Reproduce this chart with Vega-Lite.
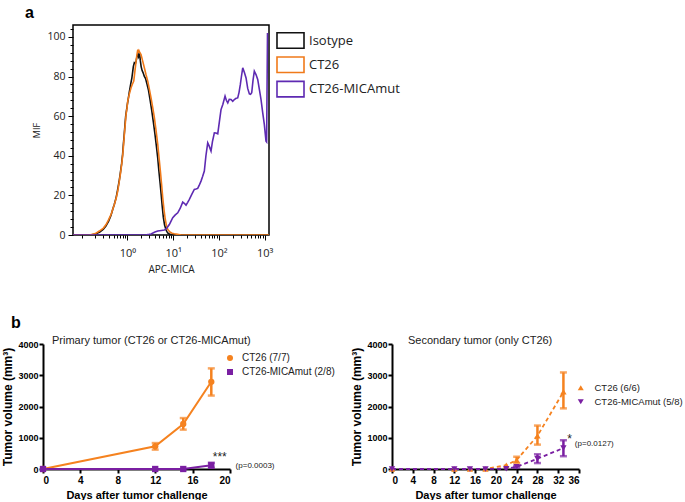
{
  "$schema": "https://vega.github.io/schema/vega-lite/v6.json",
  "background": "white",
  "padding": {"left": 1, "top": 5, "right": 0, "bottom": 0},
  "config": {"view": {"stroke": null}, "font": "Liberation Sans", "axis": {"labelOverlap": false, "labelSeparation": 0}},
  "spacing": 40,
  "resolve": {"scale": {"color": "independent", "shape": "independent", "stroke": "independent"}},
  "vconcat": [
    {
      "title": {"text": "a", "anchor": "start", "frame": "group", "dx": -18, "fontSize": 16, "fontWeight": "bold", "font": "Liberation Sans", "offset": 2},
      "spacing": -12,
      "resolve": {"scale": {"stroke": "independent"}},
      "hconcat": [
        {"width": 1, "height": 210, "data": {"values": []}, "mark": "point"},
        {
          "width": 196,
          "height": 210,
          "view": {"stroke": "black", "strokeWidth": 1.5},
          "data": {"values": [
            {"s":"Isotype","x":0.065,"y":0},{"s":"Isotype","x":0.16,"y":0},{"s":"Isotype","x":0.2,"y":0.5},{"s":"Isotype","x":0.25,"y":1.5},{"s":"Isotype","x":0.3,"y":3},{"s":"Isotype","x":0.34,"y":4.5},{"s":"Isotype","x":0.39,"y":7},{"s":"Isotype","x":0.44,"y":10},{"s":"Isotype","x":0.48,"y":13},{"s":"Isotype","x":0.52,"y":15.5},{"s":"Isotype","x":0.57,"y":19},{"s":"Isotype","x":0.61,"y":22.5},{"s":"Isotype","x":0.66,"y":27},{"s":"Isotype","x":0.7,"y":31},{"s":"Isotype","x":0.75,"y":36},{"s":"Isotype","x":0.79,"y":41},{"s":"Isotype","x":0.82,"y":46},{"s":"Isotype","x":0.85,"y":50},{"s":"Isotype","x":0.89,"y":56},{"s":"Isotype","x":0.92,"y":60},{"s":"Isotype","x":0.96,"y":63},{"s":"Isotype","x":1.0,"y":66},{"s":"Isotype","x":1.05,"y":69},{"s":"Isotype","x":1.1,"y":72},{"s":"Isotype","x":1.18,"y":76},{"s":"Isotype","x":1.25,"y":79},{"s":"Isotype","x":1.3,"y":82},{"s":"Isotype","x":1.35,"y":85},{"s":"Isotype","x":1.42,"y":87},{"s":"Isotype","x":1.5,"y":86.5},{"s":"Isotype","x":1.56,"y":88},{"s":"Isotype","x":1.62,"y":90},{"s":"Isotype","x":1.68,"y":91},{"s":"Isotype","x":1.75,"y":90},{"s":"Isotype","x":1.8,"y":91.5},{"s":"Isotype","x":1.86,"y":91},{"s":"Isotype","x":1.92,"y":88},{"s":"Isotype","x":2.0,"y":85},{"s":"Isotype","x":2.1,"y":83},{"s":"Isotype","x":2.2,"y":82},{"s":"Isotype","x":2.35,"y":80},{"s":"Isotype","x":2.5,"y":79},{"s":"Isotype","x":2.7,"y":76},{"s":"Isotype","x":2.9,"y":73},{"s":"Isotype","x":3.1,"y":69},{"s":"Isotype","x":3.4,"y":63},{"s":"Isotype","x":3.7,"y":57},{"s":"Isotype","x":4.0,"y":51},{"s":"Isotype","x":4.3,"y":45},{"s":"Isotype","x":4.6,"y":39},{"s":"Isotype","x":4.9,"y":32},{"s":"Isotype","x":5.2,"y":26},{"s":"Isotype","x":5.5,"y":20},{"s":"Isotype","x":5.8,"y":14},{"s":"Isotype","x":6.1,"y":9},{"s":"Isotype","x":6.5,"y":5},{"s":"Isotype","x":7.0,"y":2.5},{"s":"Isotype","x":7.6,"y":1},{"s":"Isotype","x":8.5,"y":0.3},{"s":"Isotype","x":10,"y":0},{"s":"Isotype","x":1240,"y":0},
            {"s":"CT26","x":0.065,"y":0},{"s":"CT26","x":0.15,"y":0},{"s":"CT26","x":0.2,"y":0.7},{"s":"CT26","x":0.245,"y":2},{"s":"CT26","x":0.3,"y":3.5},{"s":"CT26","x":0.343,"y":5.3},{"s":"CT26","x":0.39,"y":7.8},{"s":"CT26","x":0.441,"y":10.4},{"s":"CT26","x":0.48,"y":13},{"s":"CT26","x":0.52,"y":15.4},{"s":"CT26","x":0.57,"y":18.5},{"s":"CT26","x":0.617,"y":22.2},{"s":"CT26","x":0.66,"y":26.5},{"s":"CT26","x":0.703,"y":30.6},{"s":"CT26","x":0.75,"y":35.5},{"s":"CT26","x":0.794,"y":40.6},{"s":"CT26","x":0.83,"y":46},{"s":"CT26","x":0.86,"y":50.7},{"s":"CT26","x":0.9,"y":56},{"s":"CT26","x":0.937,"y":60.8},{"s":"CT26","x":0.98,"y":64},{"s":"CT26","x":1.02,"y":67.6},{"s":"CT26","x":1.1,"y":71},{"s":"CT26","x":1.205,"y":74.3},{"s":"CT26","x":1.28,"y":76},{"s":"CT26","x":1.38,"y":77.7},{"s":"CT26","x":1.45,"y":82},{"s":"CT26","x":1.55,"y":87.7},{"s":"CT26","x":1.62,"y":91},{"s":"CT26","x":1.69,"y":93.6},{"s":"CT26","x":1.75,"y":92},{"s":"CT26","x":1.8,"y":93},{"s":"CT26","x":1.88,"y":92},{"s":"CT26","x":1.99,"y":91.1},{"s":"CT26","x":2.15,"y":88},{"s":"CT26","x":2.35,"y":84.4},{"s":"CT26","x":2.55,"y":81},{"s":"CT26","x":2.79,"y":77.7},{"s":"CT26","x":3.0,"y":74},{"s":"CT26","x":3.29,"y":69.2},{"s":"CT26","x":3.6,"y":64},{"s":"CT26","x":3.89,"y":59.2},{"s":"CT26","x":4.25,"y":52.5},{"s":"CT26","x":4.61,"y":45.7},{"s":"CT26","x":4.95,"y":38.5},{"s":"CT26","x":5.26,"y":32.3},{"s":"CT26","x":5.6,"y":25.5},{"s":"CT26","x":5.93,"y":18.8},{"s":"CT26","x":6.3,"y":13},{"s":"CT26","x":6.66,"y":8.7},{"s":"CT26","x":7.1,"y":5},{"s":"CT26","x":7.62,"y":2.8},{"s":"CT26","x":8.5,"y":1.5},{"s":"CT26","x":9.5,"y":0.9},{"s":"CT26","x":10.6,"y":0.6},{"s":"CT26","x":12.5,"y":0.3},{"s":"CT26","x":14.9,"y":0},{"s":"CT26","x":1240,"y":0},
            {"s":"CT26-MICAmut","x":0.065,"y":0},{"s":"CT26-MICAmut","x":2.5,"y":0},{"s":"CT26-MICAmut","x":3.0,"y":0.3},{"s":"CT26-MICAmut","x":3.29,"y":0.5},{"s":"CT26-MICAmut","x":4.0,"y":1.5},{"s":"CT26-MICAmut","x":4.61,"y":2},{"s":"CT26-MICAmut","x":5.5,"y":2.3},{"s":"CT26-MICAmut","x":6.43,"y":2.5},{"s":"CT26-MICAmut","x":7.3,"y":3.5},{"s":"CT26-MICAmut","x":8.26,"y":5.3},{"s":"CT26-MICAmut","x":9.0,"y":7},{"s":"CT26-MICAmut","x":9.8,"y":8.7},{"s":"CT26-MICAmut","x":11,"y":10},{"s":"CT26-MICAmut","x":12.6,"y":11.2},{"s":"CT26-MICAmut","x":14.3,"y":13.5},{"s":"CT26-MICAmut","x":16.2,"y":16.6},{"s":"CT26-MICAmut","x":17.5,"y":16},{"s":"CT26-MICAmut","x":19.1,"y":15.1},{"s":"CT26-MICAmut","x":20.8,"y":16.5},{"s":"CT26-MICAmut","x":22.6,"y":18},{"s":"CT26-MICAmut","x":25.5,"y":20.5},{"s":"CT26-MICAmut","x":29,"y":23},{"s":"CT26-MICAmut","x":31.5,"y":23.2},{"s":"CT26-MICAmut","x":34.4,"y":23.5},{"s":"CT26-MICAmut","x":37,"y":25},{"s":"CT26-MICAmut","x":40.6,"y":27.2},{"s":"CT26-MICAmut","x":44,"y":29.5},{"s":"CT26-MICAmut","x":48,"y":32.3},{"s":"CT26-MICAmut","x":52,"y":40},{"s":"CT26-MICAmut","x":56.9,"y":46.5},{"s":"CT26-MICAmut","x":61,"y":45},{"s":"CT26-MICAmut","x":67.2,"y":42.4},{"s":"CT26-MICAmut","x":72,"y":47},{"s":"CT26-MICAmut","x":79.4,"y":51.6},{"s":"CT26-MICAmut","x":86,"y":51.5},{"s":"CT26-MICAmut","x":94.2,"y":51.1},{"s":"CT26-MICAmut","x":102,"y":57},{"s":"CT26-MICAmut","x":111,"y":63.3},{"s":"CT26-MICAmut","x":122,"y":66},{"s":"CT26-MICAmut","x":136,"y":70.1},{"s":"CT26-MICAmut","x":145,"y":68},{"s":"CT26-MICAmut","x":156,"y":66.7},{"s":"CT26-MICAmut","x":168,"y":68.5},{"s":"CT26-MICAmut","x":184,"y":68.4},{"s":"CT26-MICAmut","x":200,"y":67.5},{"s":"CT26-MICAmut","x":217,"y":68.4},{"s":"CT26-MICAmut","x":237,"y":69},{"s":"CT26-MICAmut","x":257,"y":69.2},{"s":"CT26-MICAmut","x":275,"y":72},{"s":"CT26-MICAmut","x":293,"y":75.9},{"s":"CT26-MICAmut","x":310,"y":80},{"s":"CT26-MICAmut","x":331,"y":84.4},{"s":"CT26-MICAmut","x":360,"y":82},{"s":"CT26-MICAmut","x":391,"y":79.3},{"s":"CT26-MICAmut","x":425,"y":74},{"s":"CT26-MICAmut","x":462,"y":71.2},{"s":"CT26-MICAmut","x":490,"y":71},{"s":"CT26-MICAmut","x":520,"y":71.8},{"s":"CT26-MICAmut","x":555,"y":78},{"s":"CT26-MICAmut","x":593,"y":82.7},{"s":"CT26-MICAmut","x":645,"y":81},{"s":"CT26-MICAmut","x":703,"y":78.5},{"s":"CT26-MICAmut","x":770,"y":73},{"s":"CT26-MICAmut","x":830,"y":68.4},{"s":"CT26-MICAmut","x":900,"y":62},{"s":"CT26-MICAmut","x":980,"y":55.8},{"s":"CT26-MICAmut","x":1067,"y":47.4},{"s":"CT26-MICAmut","x":1100,"y":47},{"s":"CT26-MICAmut","x":1150,"y":102}
          ]},
          "mark": {"type": "line", "strokeWidth": 1.6, "clip": true, "interpolate": "linear"},
          "encoding": {
            "x": {"field": "x", "type": "quantitative",
              "scale": {"type": "log", "domain": [0.065, 1240], "nice": false},
              "axis": {"values": [0.1,0.2,0.3,0.4,0.5,0.6,0.7,0.8,0.9,1,2,3,4,5,6,7,8,9,10,20,30,40,50,60,70,80,90,100,200,300,400,500,600,700,800,900,1000],
                "labelExpr": "datum.value == 1 ? '10⁰' : datum.value == 10 ? '10¹' : datum.value == 100 ? '10²' : datum.value == 1000 ? '10³' : ''",
                "tickSize": {"condition": {"test": "indexof([1,10,100,1000], datum.value) >= 0", "value": 5}, "value": 3},
                "domain": false, "grid": false, "tickColor": "black", "tickWidth": 1, "labelFont": "Open Sans", "labelFontSize": 11, "labelColor": "#222", "labelPadding": 7, "labelFlush": false, "labelOverlap": false,
                "title": "APC-MICA", "titleFont": "Open Sans", "titleFontSize": 10, "titleFontWeight": "normal", "titleColor": "#222", "titlePadding": 6}},
            "y": {"field": "y", "type": "quantitative",
              "scale": {"domain": [0, 106], "nice": false, "zero": false},
              "axis": {"values": [0,4,8,12,16,20,24,28,32,36,40,44,48,52,56,60,64,68,72,76,80,84,88,92,96,100,104],
                "labelExpr": "datum.value % 20 == 0 ? datum.label : ''",
                "tickSize": {"condition": {"test": "datum.value % 20 == 0", "value": 5}, "value": 3},
                "domain": false, "grid": false, "tickColor": "black", "tickWidth": 1, "labelFont": "Open Sans", "labelFontSize": 10.5, "labelColor": "#222", "labelPadding": 3, "labelOverlap": false, "labelFlush": false,
                "title": "MIF", "titleFont": "Open Sans", "titleFontSize": 9, "titleFontWeight": "normal", "titleColor": "#222", "titlePadding": 5}},
            "stroke": {"field": "s", "type": "nominal",
              "scale": {"domain": ["Isotype", "CT26", "CT26-MICAmut"], "range": ["#111111", "#F07A1A", "#5E2AB2"]},
              "legend": {"title": null, "orient": "none", "legendX": 208, "legendY": 6, "padding": 0,
                "symbolType": "M-1.6,-0.92H1.6V0.92H-1.6Z", "symbolSize": 285, "symbolStrokeWidth": 1.6, "symbolFillColor": "transparent",
                "labelFont": "Open Sans", "labelFontSize": 13, "labelColor": "#222", "labelOffset": 9, "rowPadding": 1.3}}
          }
        }
      ]
    },
    {
      "title": {"text": "b", "anchor": "start", "dx": 9, "fontSize": 16, "fontWeight": "bold", "font": "Liberation Sans", "offset": 4},
      "spacing": 15,
      "resolve": {"scale": {"color": "independent", "shape": "independent"}},
      "hconcat": [
        {
          "title": {"text": "Primary tumor (CT26 or CT26-MICAmut)", "anchor": "start", "frame": "group", "dx": 9, "fontSize": 11, "fontWeight": "normal", "font": "Liberation Sans", "color": "#222", "offset": -6},
          "width": 187,
          "height": 125,
          "data": {"values": [
            {"g":"CT26 (7/7)","day":0,"v":0,"lo":0,"hi":0},
            {"g":"CT26 (7/7)","day":12,"v":725,"lo":620,"hi":830},
            {"g":"CT26 (7/7)","day":15,"v":1440,"lo":1260,"hi":1630},
            {"g":"CT26 (7/7)","day":18,"v":2790,"lo":2350,"hi":3220},
            {"g":"CT26-MICAmut (2/8)","day":0,"v":0,"lo":0,"hi":0},
            {"g":"CT26-MICAmut (2/8)","day":12,"v":0,"lo":0,"hi":0},
            {"g":"CT26-MICAmut (2/8)","day":15,"v":0,"lo":0,"hi":0},
            {"g":"CT26-MICAmut (2/8)","day":18,"v":120,"lo":40,"hi":200}
          ]},
          "encoding": {
            "x": {"field": "day", "type": "quantitative",
              "scale": {"domain": [0, 20], "nice": false},
              "axis": {"values": [0,4,8,12,16,20], "title": "Days after tumor challenge", "grid": false,
                "domainColor": "black", "domainWidth": 2, "tickColor": "black", "tickWidth": 2, "tickSize": 4,
                "labelFont": "Liberation Sans", "labelFontSize": 10, "labelFontWeight": "bold", "labelColor": "black", "labelPadding": 2,
                "titleFont": "Liberation Sans", "titleFontSize": 11, "titleFontWeight": "bold", "titleColor": "black", "titlePadding": 4}},
            "y": {"field": "v", "type": "quantitative",
              "scale": {"domain": [0, 4000], "nice": false},
              "axis": {"values": [0,1000,2000,3000,4000], "tickCount": 5, "format": "d", "labelOverlap": false, "title": "Tumor volume (mm³)", "grid": false,
                "domainColor": "black", "domainWidth": 2, "tickColor": "black", "tickWidth": 2, "tickSize": 4,
                "labelFont": "Liberation Sans", "labelFontSize": 9, "labelFontWeight": "bold", "labelColor": "black", "labelPadding": 1,
                "titleFont": "Liberation Sans", "titleFontSize": 12, "titleFontWeight": "bold", "titleColor": "black", "titlePadding": 3}},
            "color": {"field": "g", "type": "nominal",
              "scale": {"domain": ["CT26 (7/7)", "CT26-MICAmut (2/8)"], "range": ["#F5821F", "#7A1FA2"]},
              "legend": {"title": null, "orient": "none", "legendX": 182, "legendY": 9, "padding": 0, "symbolSize": 36,
                "labelFont": "Liberation Sans", "labelFontSize": 10, "labelColor": "#222", "labelOffset": 7, "rowPadding": 4,
                "encoding": {"symbols": {
                  "shape": {"value": {"expr": "datum.value == 'CT26 (7/7)' ? 'M-2.3,-0.33H2.3V0.33H-2.3ZM1.05,0A1.05,1.05,0,1,1,-1.05,0A1.05,1.05,0,1,1,1.05,0Z' : 'M-2.3,-0.33H2.3V0.33H-2.3ZM-1,-1H1V1H-1Z'"}},
                  "fill": {"value": {"expr": "datum.value == 'CT26 (7/7)' ? '#F5821F' : '#7A1FA2'"}},
                  "opacity": {"value": 1},
                  "strokeWidth": {"value": 0}}}}}
          },
          "layer": [
            {"mark": {"type": "line", "strokeWidth": 2}},
            {"transform": [{"filter": "datum.hi > datum.lo"}], "mark": {"type": "rule", "strokeWidth": 2.5}, "encoding": {"y": {"field": "lo", "type": "quantitative"}, "y2": {"field": "hi"}}},
            {"transform": [{"filter": "datum.hi > datum.lo"}], "mark": {"type": "tick", "orient": "horizontal", "size": 7, "thickness": 2.5}, "encoding": {"y": {"field": "lo", "type": "quantitative"}}},
            {"transform": [{"filter": "datum.hi > datum.lo"}], "mark": {"type": "tick", "orient": "horizontal", "size": 7, "thickness": 2.5}, "encoding": {"y": {"field": "hi", "type": "quantitative"}}},
            {"mark": {"type": "point", "filled": true, "opacity": 1, "size": 40}, "encoding": {
              "shape": {"field": "g", "type": "nominal", "legend": null, "scale": {"domain": ["CT26 (7/7)", "CT26-MICAmut (2/8)"], "range": ["circle", "square"]}}}},
            {"data": {"values": [{"t": "***", "day": 18.9, "v": 380}]}, "mark": {"type": "text", "fontSize": 12, "font": "Liberation Sans", "color": "#222"}, "encoding": {"text": {"field": "t"}, "color": null}},
            {"data": {"values": [{"t": "(p=0.0003)", "day": 20.6, "v": 110}]}, "mark": {"type": "text", "align": "left", "fontSize": 8, "font": "Liberation Sans", "color": "#222"}, "encoding": {"text": {"field": "t"}, "color": null}}
          ]
        },
        {
          "title": {"text": "Secondary tumor (only CT26)", "anchor": "start", "frame": "group", "dx": 16, "fontSize": 11, "fontWeight": "normal", "font": "Liberation Sans", "color": "#222", "offset": -6},
          "width": 187,
          "height": 125,
          "data": {"values": [
            {"g":"CT26 (6/6)","day":0,"v":0,"lo":0,"hi":0},
            {"g":"CT26 (6/6)","day":12,"v":0,"lo":0,"hi":0},
            {"g":"CT26 (6/6)","day":15,"v":0,"lo":0,"hi":0},
            {"g":"CT26 (6/6)","day":18,"v":0,"lo":0,"hi":0},
            {"g":"CT26 (6/6)","day":22,"v":120,"lo":120,"hi":120},
            {"g":"CT26 (6/6)","day":24,"v":290,"lo":190,"hi":390},
            {"g":"CT26 (6/6)","day":28,"v":1060,"lo":780,"hi":1390},
            {"g":"CT26 (6/6)","day":33,"v":2470,"lo":1940,"hi":3090},
            {"g":"CT26-MICAmut (5/8)","day":0,"v":0,"lo":0,"hi":0},
            {"g":"CT26-MICAmut (5/8)","day":12,"v":0,"lo":0,"hi":0},
            {"g":"CT26-MICAmut (5/8)","day":15,"v":0,"lo":0,"hi":0},
            {"g":"CT26-MICAmut (5/8)","day":18,"v":0,"lo":0,"hi":0},
            {"g":"CT26-MICAmut (5/8)","day":22,"v":10,"lo":10,"hi":10},
            {"g":"CT26-MICAmut (5/8)","day":24,"v":70,"lo":40,"hi":100},
            {"g":"CT26-MICAmut (5/8)","day":28,"v":330,"lo":190,"hi":470},
            {"g":"CT26-MICAmut (5/8)","day":33,"v":670,"lo":410,"hi":920}
          ]},
          "encoding": {
            "x": {"field": "day", "type": "quantitative",
              "scale": {"domain": [0, 36], "nice": false},
              "axis": {"values": [0,4,8,12,16,20,24,28,32,36], "title": "Days after tumor challenge", "grid": false,
                "domainColor": "black", "domainWidth": 2, "tickColor": "black", "tickWidth": 2, "tickSize": 4,
                "labelFont": "Liberation Sans", "labelFontSize": 10, "labelFontWeight": "bold", "labelColor": "black", "labelPadding": 2,
                "titleFont": "Liberation Sans", "titleFontSize": 11, "titleFontWeight": "bold", "titleColor": "black", "titlePadding": 4}},
            "y": {"field": "v", "type": "quantitative",
              "scale": {"domain": [0, 4000], "nice": false},
              "axis": {"values": [0,1000,2000,3000,4000], "tickCount": 5, "format": "d", "labelOverlap": false, "title": "Tumor volume (mm³)", "grid": false,
                "domainColor": "black", "domainWidth": 2, "tickColor": "black", "tickWidth": 2, "tickSize": 4,
                "labelFont": "Liberation Sans", "labelFontSize": 9, "labelFontWeight": "bold", "labelColor": "black", "labelPadding": 1,
                "titleFont": "Liberation Sans", "titleFontSize": 12, "titleFontWeight": "bold", "titleColor": "black", "titlePadding": 3}},
            "color": {"field": "g", "type": "nominal",
              "scale": {"domain": ["CT26 (6/6)", "CT26-MICAmut (5/8)"], "range": ["#F5821F", "#7A1FA2"]},
              "legend": {"title": null, "orient": "none", "legendX": 184, "legendY": 39, "padding": 0, "symbolSize": 36,
                "labelFont": "Liberation Sans", "labelFontSize": 9.5, "labelColor": "#222", "labelOffset": 9, "rowPadding": 3,
                "encoding": {"symbols": {
                  "shape": {"value": {"expr": "datum.value == 'CT26 (6/6)' ? 'M-3,-0.3H-2.3V0.3H-3ZM-1.9,-0.3H-1.3V0.3H-1.9ZM1.3,-0.3H1.9V0.3H1.3ZM2.3,-0.3H3V0.3H2.3ZM0,-1.1L1.2,0.9H-1.2Z' : 'M-3,-0.3H-2.3V0.3H-3ZM-1.9,-0.3H-1.3V0.3H-1.9ZM1.3,-0.3H1.9V0.3H1.3ZM2.3,-0.3H3V0.3H2.3ZM0,1.1L-1.2,-0.9H1.2Z'"}},
                  "fill": {"value": {"expr": "datum.value == 'CT26 (6/6)' ? '#F5821F' : '#7A1FA2'"}},
                  "opacity": {"value": 1},
                  "strokeWidth": {"value": 0}}}}}
          },
          "layer": [
            {"mark": {"type": "line", "strokeWidth": 1.8, "strokeDash": [4, 3]}},
            {"transform": [{"filter": "datum.hi > datum.lo"}], "mark": {"type": "rule", "strokeWidth": 2.5}, "encoding": {"y": {"field": "lo", "type": "quantitative"}, "y2": {"field": "hi"}}},
            {"transform": [{"filter": "datum.hi > datum.lo"}], "mark": {"type": "tick", "orient": "horizontal", "size": 7, "thickness": 2.5}, "encoding": {"y": {"field": "lo", "type": "quantitative"}}},
            {"transform": [{"filter": "datum.hi > datum.lo"}], "mark": {"type": "tick", "orient": "horizontal", "size": 7, "thickness": 2.5}, "encoding": {"y": {"field": "hi", "type": "quantitative"}}},
            {"mark": {"type": "point", "filled": true, "opacity": 1, "size": 40}, "encoding": {
              "shape": {"field": "g", "type": "nominal", "legend": null, "scale": {"domain": ["CT26 (6/6)", "CT26-MICAmut (5/8)"], "range": ["triangle-up", "triangle-down"]}}}},
            {"data": {"values": [{"t": "*", "day": 34.2, "v": 950}]}, "mark": {"type": "text", "fontSize": 12, "font": "Liberation Sans", "color": "#222"}, "encoding": {"text": {"field": "t"}, "color": null}},
            {"data": {"values": [{"t": "(p=0.0127)", "day": 35.2, "v": 800}]}, "mark": {"type": "text", "align": "left", "fontSize": 8, "font": "Liberation Sans", "color": "#222"}, "encoding": {"text": {"field": "t"}, "color": null}}
          ]
        }
      ]
    }
  ]
}
